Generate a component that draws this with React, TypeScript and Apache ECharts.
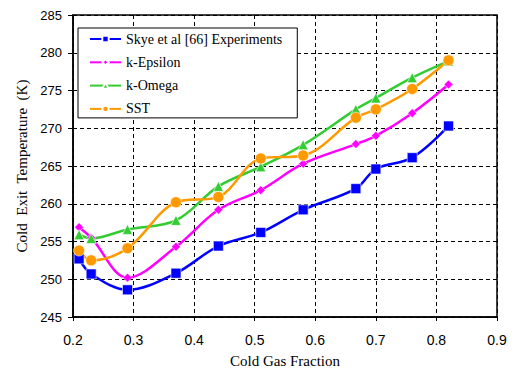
import React, { useEffect, useRef } from "react";
import * as echarts from "echarts";

const xTicksMin = 0.2;
const xTicksMax = 0.9;
const yMin = 245;
const yMax = 285;

const skyeX = [0.21, 0.23, 0.29, 0.37, 0.44, 0.51, 0.58, 0.667, 0.70, 0.76, 0.82];
const skyeY = [252.7, 250.7, 248.6, 250.8, 254.4, 256.2, 259.2, 262.0, 264.6, 266.1, 270.3];

const kEpsX = [0.21, 0.23, 0.29, 0.37, 0.44, 0.51, 0.58, 0.667, 0.70, 0.76, 0.82];
const kEpsY = [256.9, 255.5, 250.2, 254.3, 259.2, 261.8, 265.3, 267.9, 269.0, 272.0, 275.8];

const kOmX = [0.21, 0.23, 0.29, 0.37, 0.44, 0.51, 0.58, 0.667, 0.70, 0.76, 0.82];
const kOmY = [255.9, 255.4, 256.6, 257.8, 262.3, 264.9, 267.8, 272.5, 274.0, 276.7, 278.9];

const sstX = [0.21, 0.23, 0.29, 0.37, 0.44, 0.51, 0.58, 0.667, 0.70, 0.76, 0.82];
const sstY = [253.8, 252.5, 254.1, 260.2, 260.9, 266.0, 266.4, 271.4, 272.5, 275.2, 279.0];

const seriesNames = ["Skye et al [66] Experiments", "k-Epsilon", "k-Omega", "SST"];

const SERIF = "'Liberation Serif', 'Times New Roman', Times, serif";
const SANS = "'Liberation Sans', Arial, Helvetica, sans-serif";

const pairs = (xs: number[], ys: number[]) => xs.map((x, i) => [x, ys[i]]);

export default function App() {
  const ref = useRef<HTMLDivElement>(null);
  useEffect(() => {
    if (!ref.current) return;
    const chart = echarts.init(ref.current, undefined, { renderer: "svg" });
    const mk = (name: string, data: number[][], color: string, symbol: string, size: number) => ({
      name,
      type: "line",
      data,
      smooth: 0.35,
      symbol,
      symbolSize: size,
      showSymbol: true,
      color,
      lineStyle: { color, width: 2.5 },
      itemStyle: { color, borderColor: "#ffffff", borderWidth: 0.6 },
    });
    chart.setOption({
      animation: false,
      backgroundColor: "#ffffff",
      grid: {
        left: 73,
        right: 18,
        top: 15,
        bottom: 53,
        show: true,
        borderColor: "#000",
        borderWidth: 1.5,
        backgroundColor: "transparent",
      },
      legend: {
        orient: "vertical",
        left: 78,
        top: 28,
        padding: [4, 15, 2, 11],
        itemWidth: 31,
        itemHeight: 8,
        itemGap: 9.3,
        backgroundColor: "#ffffff",
        borderColor: "#000",
        borderWidth: 1,
        textStyle: {
          fontFamily: SERIF,
          fontSize: 14,
          lineHeight: 14,
          color: "#000",
        },
        data: seriesNames,
      },
      xAxis: {
        type: "value",
        min: xTicksMin,
        max: xTicksMax,
        interval: 0.1,
        name: "Cold Gas Fraction",
        nameLocation: "middle",
        nameGap: 36,
        nameTextStyle: { fontFamily: SERIF, fontSize: 15, color: "#000" },
        axisLine: { show: true, onZero: false, lineStyle: { color: "#000", width: 1.5 } },
        axisTick: { show: true, inside: false, length: 4, lineStyle: { color: "#000" } },
        axisLabel: {
          fontFamily: SANS,
          fontSize: 14,
          color: "#000",
          margin: 16,
          formatter: (v: number) => v.toFixed(1),
        },
        splitLine: { show: true, lineStyle: { color: "#000", type: [4, 3], width: 1 } },
      },
      yAxis: {
        type: "value",
        min: yMin,
        max: yMax,
        interval: 5,
        name: "Cold  Exit  Temperature  (K)",
        nameLocation: "middle",
        nameGap: 44,
        nameTextStyle: { fontFamily: SERIF, fontSize: 15, color: "#000" },
        axisLine: { show: true, lineStyle: { color: "#000", width: 1.5 } },
        axisTick: { show: true, inside: false, length: 5, lineStyle: { color: "#000" } },
        axisLabel: {
          fontFamily: SANS,
          fontSize: 13,
          color: "#000",
          margin: 11,
        },
        splitLine: { show: true, lineStyle: { color: "#000", type: [4, 3], width: 1 } },
      },
      series: [
        mk(seriesNames[0], pairs(skyeX, skyeY), "#0000ff", "rect", 10),
        mk(seriesNames[1], pairs(kEpsX, kEpsY), "#ff00ff", "diamond", 9),
        mk(seriesNames[2], pairs(kOmX, kOmY), "#33cc33", "triangle", 10),
        mk(seriesNames[3], pairs(sstX, sstY), "#ff9900", "circle", 11),
      ],
    });
    return () => chart.dispose();
  }, []);
  return <div ref={ref} style={{ width: 515, height: 373, position: "absolute", left: 0, top: 0 }} />;
}
